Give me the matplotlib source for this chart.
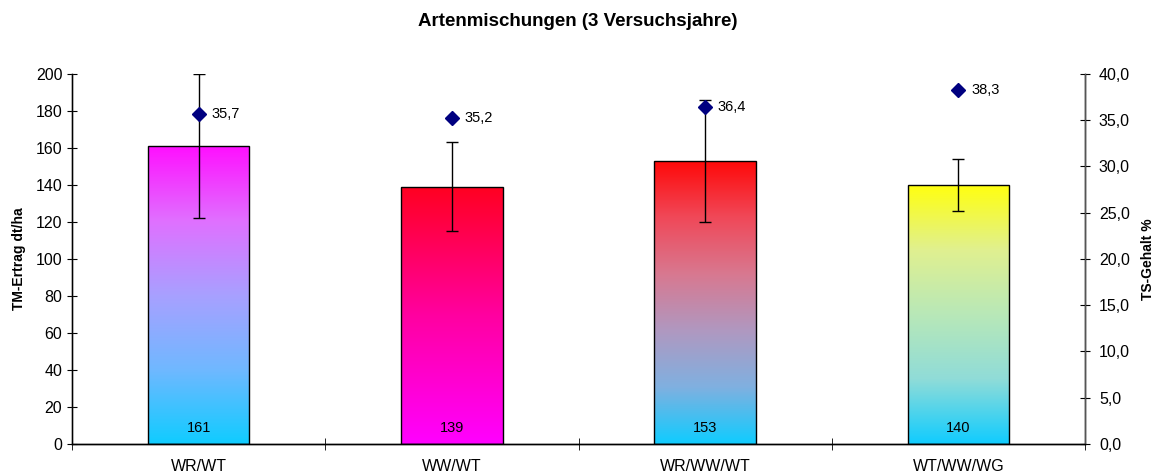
import numpy as np
import matplotlib.pyplot as plt
from matplotlib.colors import LinearSegmentedColormap

plt.rcParams['font.family'] = ['Liberation Sans', 'DejaVu Sans']

categories = ['WR/WT', 'WW/WT', 'WR/WW/WT', 'WT/WW/WG']
yield_dt = [161, 139, 153, 140]
yield_err = [39, 24, 33, 14]
ts_content = [35.7, 35.2, 36.4, 38.3]
# gradient colour stops per bar, bottom -> top
bar_grad = [['#10ccff', '#70b8ff', '#a8a0ff', '#e070ff', '#ff10ff'],
            ['#ff00ff', '#ff00a0', '#ff0020'],
            ['#10ccff', '#80b0e0', '#b098c0', '#d87890', '#f04858', '#ff0808'],
            ['#10ccff', '#90dcd8', '#b8e8b8', '#e0f090', '#ffff10']]

fig = plt.figure(figsize=(11.56, 4.75), dpi=100)
ax = fig.add_axes([0.0623, 0.0653, 0.8763, 0.7789])
ax2 = ax.twinx()

x = np.arange(len(categories))
width = 0.4
bars = ax.bar(x, yield_dt, width, color='none', edgecolor='black', linewidth=1, zorder=3)

grad = np.linspace(0, 1, 256).reshape(-1, 1)
for b, stops in zip(bars, bar_grad):
    cmap = LinearSegmentedColormap.from_list('g', stops)
    x0, y0 = b.get_x(), b.get_y()
    im = ax.imshow(grad, cmap=cmap, origin='lower', aspect='auto',
                   extent=[x0, x0 + b.get_width(), y0, y0 + b.get_height()], zorder=2)
    im.set_clip_path(b)

ax.errorbar(x, yield_dt, yerr=yield_err, fmt='none', ecolor='black',
            elinewidth=1, capsize=4.5, capthick=1, zorder=4)

for xi, v in zip(x, yield_dt):
    ax.text(xi, 5, f'{v}', ha='center', va='bottom', fontsize=10.5, zorder=5)

ax.set_xlim(-0.5, len(categories) - 0.5)
ax.set_ylim(0, 200)
ax.set_yticks(np.arange(0, 201, 20))
ax.set_xticks(x)
ax.set_xticklabels(categories, fontsize=11.5)
ax.set_xticks(np.arange(-0.5, len(categories), 1), minor=True)
ax.tick_params(axis='x', which='major', length=0, pad=11)
ax.tick_params(axis='x', which='minor', direction='inout', length=8)
ax.tick_params(axis='y', direction='inout', length=7, labelsize=11.5)
ax.set_ylabel('TM-Ertrag dt/ha', fontsize=10, fontweight='bold', labelpad=7)

ax2.plot(x, ts_content, linestyle='none', marker='D', color='#000080',
         markersize=7.5, zorder=6)
for xi, v in zip(x, ts_content):
    ax2.text(xi + 0.05, v, f'{v:.1f}'.replace('.', ','), ha='left', va='center',
             fontsize=10.5)
ax2.set_ylim(0, 40)
ax2.set_yticks(np.arange(0, 40.1, 5))
ax2.set_yticklabels([f'{t:.1f}'.replace('.', ',') for t in np.arange(0, 40.1, 5)])
ax2.tick_params(axis='y', direction='inout', length=7, labelsize=11.5, pad=6.5)
ax2.set_ylabel('TS-Gehalt %', fontsize=10, fontweight='bold', labelpad=8)

for a in (ax, ax2):
    a.spines['top'].set_visible(False)
    for s in a.spines.values():
        s.set_linewidth(1)
ax.set_zorder(ax2.get_zorder() - 1)
ax2.patch.set_visible(False)
ax.spines['left'].set_color('#555555')
ax2.spines['right'].set_color('#555555')

fig.text(0.5, 0.955, 'Artenmischungen (3 Versuchsjahre)', ha='center', va='center',
         fontsize=13.5, fontweight='bold')

fig.savefig('out.png', dpi=100)
